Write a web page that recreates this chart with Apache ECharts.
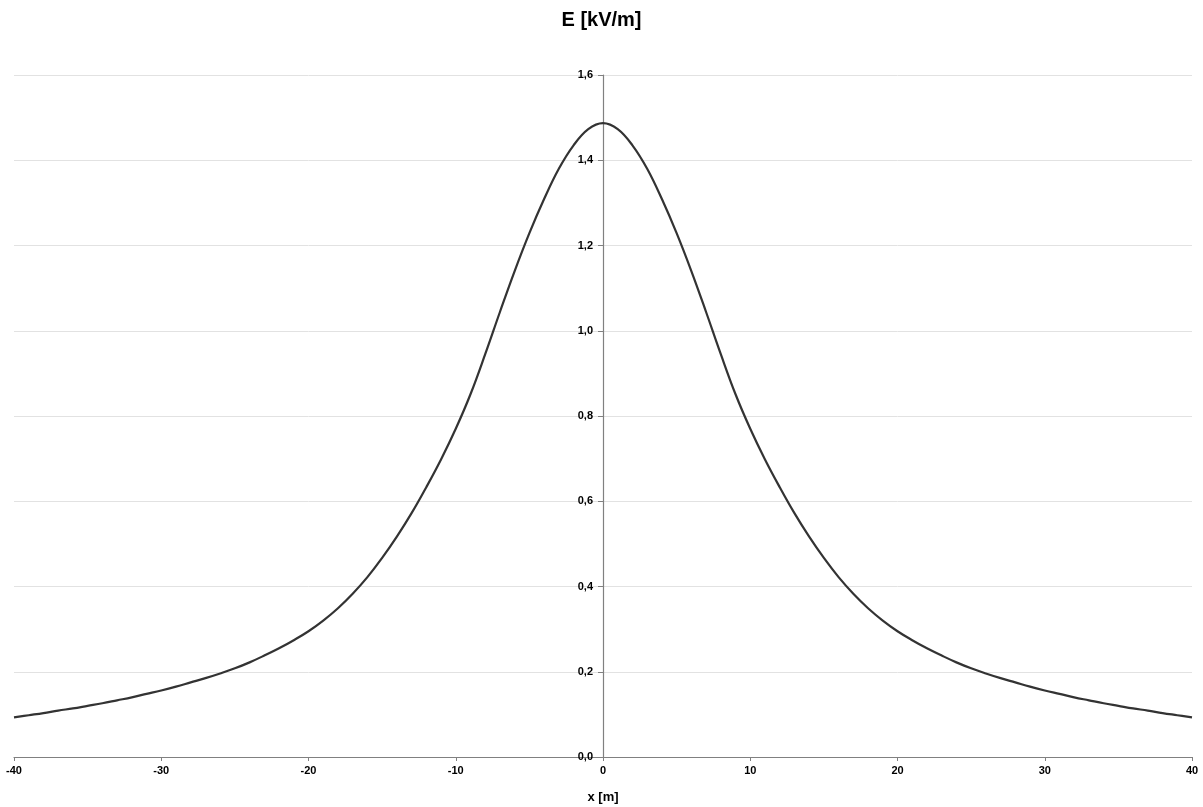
<!DOCTYPE html>
<html>
<head>
<meta charset="utf-8">
<script src="https://cdn.jsdelivr.net/npm/echarts@6/dist/echarts.min.js"></script>
<style>html,body{margin:0;padding:0;background:#fff}#c{width:1203px;height:807px}</style>
</head>
<body>
<div id="c"></div>
<script>
// Distance from line axis [m]
var xValues = [-40,-39,-38,-37,-36,-35,-34,-33,-32,-31,-30,-29,-28,-27,-26,-25,-24,-23,-22,-21,-20,-19,-18,-17,-16,-15,-14,-13,-12,-11,-10,-9,-8,-7,-6,-5,-4,-3,-2,-1,0,1,2,3,4,5,6,7,8,9,10,11,12,13,14,15,16,17,18,19,20,21,22,23,24,25,26,27,28,29,30,31,32,33,34,35,36,37,38,39,40];
// Electric field E [kV/m]
var eValues = [0.093,0.098,0.103,0.109,0.114,0.120,0.126,0.133,0.140,0.148,0.156,0.165,0.175,0.185,0.196,0.208,0.222,0.238,0.255,0.274,0.295,0.320,0.349,0.383,0.422,0.467,0.517,0.572,0.633,0.698,0.770,0.851,0.945,1.044,1.140,1.229,1.309,1.380,1.435,1.473,1.487,1.473,1.435,1.380,1.309,1.229,1.140,1.044,0.945,0.851,0.770,0.698,0.633,0.572,0.517,0.467,0.422,0.383,0.349,0.320,0.295,0.274,0.255,0.238,0.222,0.208,0.196,0.185,0.175,0.165,0.156,0.148,0.140,0.133,0.126,0.120,0.114,0.109,0.103,0.098,0.093];
var titleText = 'E [kV/m]';
var xAxisTitle = 'x [m]';

var pts = xValues.map(function(x, i){ return [x, eValues[i]]; });
var gridLeft = 14, gridRight = 11;
var chart = echarts.init(document.getElementById('c'), null, {renderer:'canvas'});
var plotW = 1203 - gridLeft - gridRight;
var zeroOffset = -plotW / 2; // place y axis at x = 0 (centre of symmetric range)
chart.setOption({
  animation: false,
  backgroundColor: '#ffffff',
  title: {
    text: titleText, left: 'center', top: 5,
    textStyle: {fontFamily: 'Liberation Sans, Arial', fontSize: 20, fontWeight: 'bold', color: '#000'}
  },
  grid: {left: gridLeft, right: gridRight, top: 75, bottom: 50, containLabel: false, outerBoundsMode: 'none'},
  xAxis: {
    type: 'value', min: -40, max: 40, interval: 10,
    name: xAxisTitle, nameLocation: 'middle', nameGap: 34,
    nameTextStyle: {fontFamily: 'Liberation Sans, Arial', fontSize: 13, fontWeight: 'bold', color: '#000'},
    axisLine: {show: true, onZero: false, lineStyle: {color: '#808080', width: 1.2}},
    axisTick: {show: true, inside: false, length: 4, lineStyle: {color: '#808080'}},
    axisLabel: {fontFamily: 'Liberation Sans, Arial', fontSize: 11, fontWeight: 'bold', color: '#000', margin: 8},
    splitLine: {show: false}
  },
  yAxis: {
    type: 'value', min: 0, max: 1.6, interval: 0.2,
    position: 'left', offset: zeroOffset,
    axisLine: {show: true, onZero: false, lineStyle: {color: '#808080', width: 1.2}},
    axisTick: {show: true, length: 5, lineStyle: {color: '#808080'}},
    axisLabel: {
      fontFamily: 'Liberation Sans, Arial', fontSize: 11, fontWeight: 'bold', color: '#000', margin: 10,
      formatter: function(v){ return v.toFixed(1).replace('.', ','); }
    },
    splitLine: {show: true, lineStyle: {color: '#e2e2e2', width: 1}}
  },
  series: [{
    type: 'line', data: pts, smooth: 0.4, showSymbol: false,
    lineStyle: {color: '#333333', width: 2.2}
  }]
});
</script>
</body>
</html>
